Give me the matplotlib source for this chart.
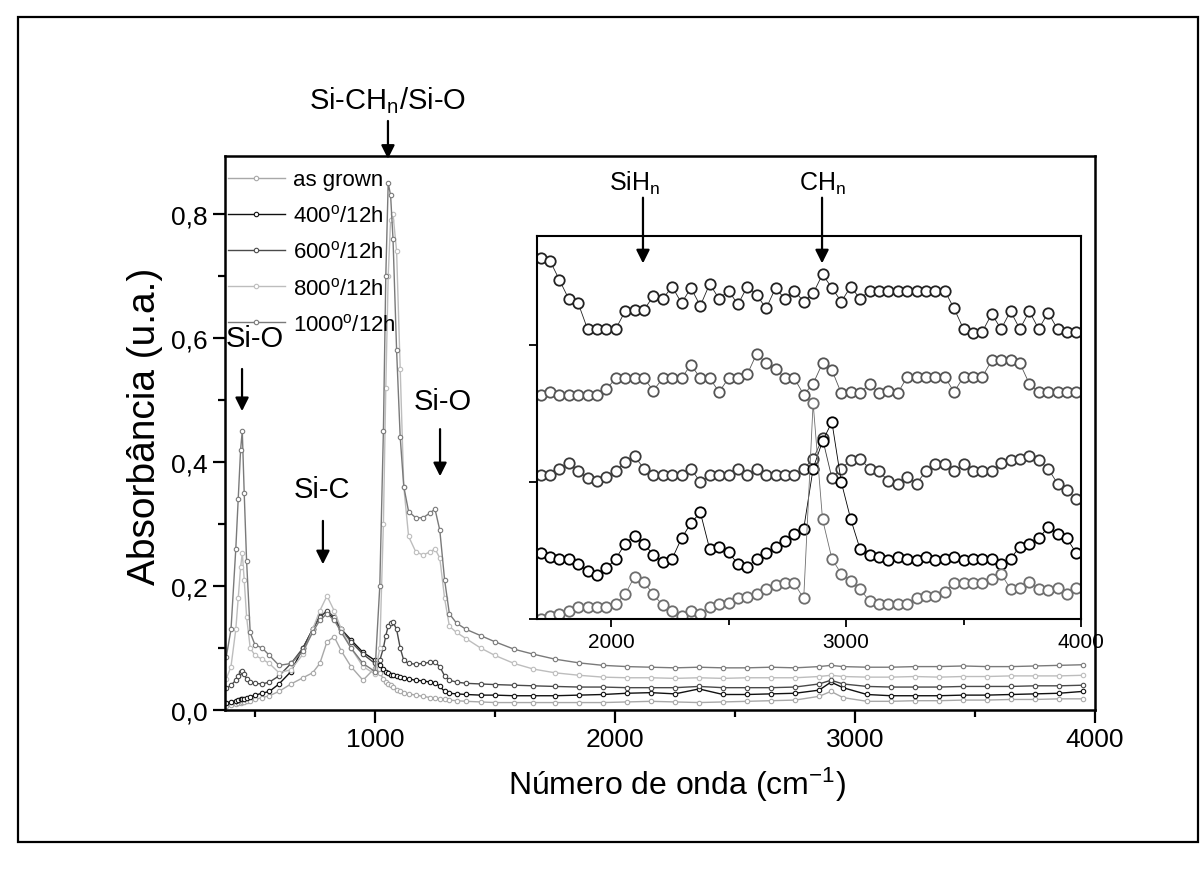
import numpy as np
import matplotlib
matplotlib.use("Agg")
import matplotlib.pyplot as plt
from matplotlib.ticker import MultipleLocator, FuncFormatter
from matplotlib.patches import Rectangle

plt.rcParams['font.family'] = ['Liberation Sans Narrow', 'Liberation Sans', 'DejaVu Sans']
plt.rcParams['mathtext.default'] = 'regular'

# ---------------- main spectra (absorbance, a.u.) ----------------
wavenumber = [380, 400, 420, 430, 440, 447, 455, 465, 480, 500,
              530, 560, 600, 650, 700, 740, 770, 800, 830, 860,
              900, 950, 1000, 1020, 1035, 1045, 1055, 1065, 1075, 1090,
              1105, 1120, 1140, 1170, 1200, 1230, 1250, 1270, 1290, 1310,
              1340, 1380, 1440, 1500, 1580, 1660, 1750, 1850, 1950, 2050,
              2150, 2250, 2350, 2450, 2550, 2650, 2750, 2850, 2900, 2950,
              3050, 3150, 3250, 3350, 3450, 3550, 3650, 3750, 3850, 3950]

abs_asgrown = [0.006, 0.008, 0.010, 0.011, 0.012, 0.013, 0.013, 0.014, 0.015, 0.017,
               0.020, 0.023, 0.030, 0.042, 0.052, 0.060, 0.075, 0.110, 0.118, 0.095,
               0.070, 0.048, 0.068, 0.060, 0.050, 0.045, 0.042, 0.040, 0.037, 0.033,
               0.030, 0.028, 0.026, 0.024, 0.022, 0.020, 0.019, 0.018, 0.017, 0.016,
               0.015, 0.014, 0.013, 0.012, 0.012, 0.012, 0.012, 0.012, 0.012, 0.013,
               0.014, 0.013, 0.012, 0.013, 0.014, 0.015, 0.016, 0.022, 0.030, 0.020,
               0.014, 0.014, 0.015, 0.015, 0.016, 0.016, 0.017, 0.017, 0.018, 0.018]

abs_400 = [0.012, 0.013, 0.015, 0.016, 0.017, 0.017, 0.018, 0.019, 0.021, 0.024,
           0.027, 0.030, 0.042, 0.062, 0.100, 0.130, 0.152, 0.158, 0.147, 0.130,
           0.113, 0.093, 0.080, 0.072, 0.066, 0.062, 0.060, 0.057, 0.056, 0.055,
           0.053, 0.051, 0.050, 0.048, 0.047, 0.045, 0.044, 0.038, 0.030, 0.027,
           0.026, 0.025, 0.024, 0.024, 0.023, 0.023, 0.023, 0.024, 0.025, 0.027,
           0.028, 0.026, 0.034, 0.025, 0.025, 0.026, 0.027, 0.032, 0.045, 0.036,
           0.025, 0.023, 0.023, 0.023, 0.024, 0.024, 0.025, 0.026, 0.027, 0.030]

abs_600 = [0.035, 0.040, 0.048, 0.055, 0.062, 0.063, 0.058, 0.050, 0.045, 0.043,
           0.042, 0.045, 0.055, 0.075, 0.100, 0.130, 0.150, 0.160, 0.150, 0.130,
           0.110, 0.090, 0.075, 0.080, 0.100, 0.120, 0.135, 0.140, 0.142, 0.130,
           0.100, 0.080, 0.075, 0.074, 0.075, 0.077, 0.077, 0.070, 0.055, 0.048,
           0.045, 0.043, 0.042, 0.041, 0.040, 0.039, 0.038, 0.037, 0.037, 0.036,
           0.036, 0.036, 0.038, 0.036, 0.036, 0.036, 0.037, 0.042, 0.048, 0.042,
           0.038, 0.037, 0.037, 0.037, 0.038, 0.038, 0.038, 0.039, 0.039, 0.040]

abs_800 = [0.050, 0.070, 0.130, 0.180, 0.230, 0.253, 0.210, 0.150, 0.100, 0.088,
           0.082, 0.075, 0.060, 0.065, 0.090, 0.130, 0.160, 0.184, 0.160, 0.130,
           0.100, 0.070, 0.058, 0.100, 0.300, 0.520, 0.700, 0.790, 0.800, 0.740,
           0.550, 0.360, 0.280, 0.255, 0.250, 0.255, 0.260, 0.245, 0.180, 0.135,
           0.125, 0.115, 0.100, 0.088, 0.075, 0.066, 0.060, 0.056, 0.053, 0.052,
           0.052, 0.051, 0.052, 0.051, 0.052, 0.052, 0.052, 0.054, 0.056, 0.054,
           0.053, 0.053, 0.054, 0.053, 0.054, 0.054, 0.055, 0.055, 0.055, 0.056]

abs_1000 = [0.085, 0.130, 0.260, 0.340, 0.420, 0.450, 0.350, 0.240, 0.125, 0.105,
            0.100, 0.088, 0.072, 0.075, 0.095, 0.125, 0.145, 0.155, 0.145, 0.125,
            0.100, 0.075, 0.062, 0.200, 0.450, 0.700, 0.850, 0.830, 0.760, 0.580,
            0.440, 0.360, 0.320, 0.310, 0.310, 0.318, 0.324, 0.290, 0.210, 0.155,
            0.140, 0.130, 0.120, 0.110, 0.098, 0.090, 0.082, 0.076, 0.072, 0.070,
            0.069, 0.068, 0.069, 0.068, 0.068, 0.069, 0.068, 0.070, 0.072, 0.070,
            0.069, 0.069, 0.070, 0.070, 0.071, 0.070, 0.070, 0.071, 0.072, 0.073]

labels = ["as grown", "400$^{o}$/12h", "600$^{o}$/12h", "800$^{o}$/12h", "1000$^{o}$/12h"]
colors = ["#a8a8a8", "#111111", "#4a4a4a", "#bdbdbd", "#7a7a7a"]

# ---------------- inset (offset, normalised, arbitrary units) ----------------
inset_wn = np.arange(1700, 4000, 40)

ins_1000 = [2.64, 2.62, 2.48, 2.34, 2.31, 2.12, 2.12, 2.12, 2.12, 2.25,
            2.26, 2.26, 2.36, 2.34, 2.43, 2.31, 2.42, 2.29, 2.45, 2.34,
            2.40, 2.30, 2.43, 2.37, 2.27, 2.42, 2.34, 2.40, 2.32, 2.38,
            2.52, 2.42, 2.32, 2.43, 2.34, 2.40, 2.40, 2.40, 2.40, 2.40,
            2.40, 2.40, 2.40, 2.40, 2.27, 2.12, 2.09, 2.10, 2.23, 2.12,
            2.25, 2.12, 2.25, 2.12, 2.24, 2.12, 2.10, 2.10]

ins_800 = [1.64, 1.66, 1.64, 1.64, 1.64, 1.64, 1.64, 1.68, 1.76, 1.76,
           1.76, 1.76, 1.67, 1.76, 1.76, 1.76, 1.86, 1.76, 1.76, 1.66,
           1.76, 1.76, 1.79, 1.94, 1.87, 1.83, 1.76, 1.76, 1.64, 1.72,
           1.87, 1.82, 1.65, 1.66, 1.65, 1.72, 1.65, 1.67, 1.65, 1.77,
           1.77, 1.77, 1.77, 1.77, 1.66, 1.77, 1.77, 1.77, 1.89, 1.89,
           1.89, 1.87, 1.72, 1.66, 1.66, 1.66, 1.66, 1.66]

ins_600 = [1.05, 1.05, 1.10, 1.14, 1.08, 1.03, 1.01, 1.04, 1.08, 1.15,
           1.19, 1.10, 1.05, 1.05, 1.05, 1.05, 1.10, 1.00, 1.05, 1.05,
           1.05, 1.10, 1.05, 1.10, 1.05, 1.05, 1.05, 1.05, 1.10, 1.17,
           1.32, 1.03, 1.10, 1.16, 1.17, 1.10, 1.08, 1.01, 0.99, 1.04,
           0.99, 1.08, 1.13, 1.13, 1.08, 1.13, 1.08, 1.08, 1.08, 1.14,
           1.16, 1.17, 1.19, 1.16, 1.10, 0.99, 0.94, 0.88]

ins_400 = [0.48, 0.45, 0.44, 0.44, 0.40, 0.35, 0.32, 0.37, 0.44, 0.55,
           0.61, 0.55, 0.47, 0.42, 0.44, 0.59, 0.70, 0.78, 0.51, 0.53,
           0.49, 0.40, 0.38, 0.44, 0.48, 0.53, 0.57, 0.62, 0.66, 1.10,
           1.30, 1.44, 1.00, 0.73, 0.51, 0.47, 0.45, 0.43, 0.45, 0.44,
           0.43, 0.45, 0.43, 0.44, 0.45, 0.43, 0.44, 0.44, 0.44, 0.40,
           0.44, 0.53, 0.55, 0.59, 0.67, 0.62, 0.59, 0.48]

ins_asgrown = [0.00, 0.02, 0.04, 0.06, 0.09, 0.09, 0.09, 0.09, 0.11, 0.18,
               0.31, 0.27, 0.18, 0.10, 0.06, 0.02, 0.06, 0.04, 0.09, 0.11,
               0.12, 0.15, 0.16, 0.18, 0.22, 0.25, 0.26, 0.26, 0.15, 1.58,
               0.73, 0.44, 0.33, 0.28, 0.22, 0.13, 0.11, 0.11, 0.11, 0.11,
               0.15, 0.17, 0.17, 0.20, 0.26, 0.26, 0.26, 0.26, 0.29, 0.33,
               0.22, 0.23, 0.27, 0.22, 0.21, 0.23, 0.18, 0.23]

inset_series = [ins_1000, ins_800, ins_600, ins_400, ins_asgrown]
inset_colors = ["#222222", "#555555", "#3a3a3a", "#000000", "#6e6e6e"]

# ---------------- figure ----------------
W, H = 1200, 879
fig = plt.figure(figsize=(W / 100, H / 100), dpi=100)
fig.patch.set_facecolor("white")

def fx(px):
    return px / W

def fy(py):
    return 1 - py / H

# outer frame of the scanned figure
fig.add_artist(Rectangle((fx(18), fy(843)), fx(1198) - fx(18), fy(18) - fy(843),
                         transform=fig.transFigure, fill=False, lw=1.6, color="black"))

ax = fig.add_axes([fx(225), fy(711), fx(1095) - fx(225), fy(157) - fy(711)])

series = [abs_asgrown, abs_400, abs_600, abs_800, abs_1000]
handles = []
for vals, lab, col in zip(series, labels, colors):
    h, = ax.plot(wavenumber, vals, '-', color=col, lw=1.0, marker='o', ms=3.2,
                 mfc='white', mec=col, mew=0.8, label=lab)
    handles.append(h)

ax.set_xlim(375, 4000)
ax.set_ylim(0, 0.8935)
ax.xaxis.set_major_locator(MultipleLocator(1000))
ax.xaxis.set_minor_locator(MultipleLocator(500))
ax.yaxis.set_major_locator(MultipleLocator(0.2))
ax.yaxis.set_minor_locator(MultipleLocator(0.1))
ax.yaxis.set_major_formatter(FuncFormatter(lambda v, p: f"{v:.1f}".replace('.', ',')))
ax.tick_params(which='both', direction='out', top=False, right=False, labelsize=19, width=1.6)
ax.tick_params(which='major', length=9)
ax.tick_params(which='minor', length=5)
for sp in ax.spines.values():
    sp.set_linewidth(1.8)

leg = ax.legend(handles=handles, loc='upper left', bbox_to_anchor=(0.003, 0.976),
                frameon=False, fontsize=16, handlelength=2.6, handletextpad=0.35,
                labelspacing=0.64, borderpad=0, borderaxespad=0, numpoints=1)

fig.text(fx(145), fy(426), "Absorbância (u.a.)", rotation=90, ha='center', va='center', fontsize=28)
fig.text(fx(677), fy(785), "Número de onda (cm$^{-1}$)", ha='center', va='center', fontsize=23)

arrow = dict(arrowstyle='-|>', lw=1.6, color='black', mutation_scale=20, shrinkA=0, shrinkB=0)
ax.annotate("", xy=(446, 0.482), xytext=(446, 0.55), arrowprops=arrow, annotation_clip=False)
ax.annotate("", xy=(783, 0.235), xytext=(783, 0.305), arrowprops=arrow, annotation_clip=False)
ax.annotate("", xy=(1054, 0.889), xytext=(1054, 0.950), arrowprops=arrow, annotation_clip=False)
ax.annotate("", xy=(1271, 0.377), xytext=(1271, 0.453), arrowprops=arrow, annotation_clip=False)

ax.text(500, 0.60, "Si-O", ha='center', va='center', fontsize=21)
ax.text(779, 0.356, "Si-C", ha='center', va='center', fontsize=21)
ax.text(1283, 0.498, "Si-O", ha='center', va='center', fontsize=21)
ax.text(1054, 0.985, "Si-CH$_{n}$/Si-O", ha='center', va='center', fontsize=21, clip_on=False)

# ---------------- inset ----------------
ins = fig.add_axes([fx(537), fy(620), fx(1081) - fx(537), fy(237) - fy(620)])
ins.set_facecolor("white")
for vals, col in zip(inset_series, inset_colors):
    ins.plot(inset_wn, vals, '-', color=col, lw=0.6, marker='o', ms=7.5,
             mfc='white', mec=col, mew=1.3)
ins.set_xlim(1685, 4000)
ins.set_ylim(0, 2.8)
ins.xaxis.set_major_locator(MultipleLocator(1000))
ins.xaxis.set_minor_locator(MultipleLocator(500))
ins.set_yticks([0, 1, 2])
ins.set_yticklabels([])
ins.tick_params(which='both', direction='out', top=False, right=False, labelsize=15, width=1.3)
ins.tick_params(which='major', length=6)
ins.tick_params(which='minor', length=4)
for sp in ins.spines.values():
    sp.set_linewidth(1.5)

ins.annotate("", xy=(2136, 2.60), xytext=(2136, 3.08), arrowprops=arrow, annotation_clip=False)
ins.annotate("", xy=(2898, 2.60), xytext=(2898, 3.08), arrowprops=arrow, annotation_clip=False)
ins.text(2100, 3.19, "SiH$_{n}$", ha='center', va='center', fontsize=18, clip_on=False)
ins.text(2898, 3.19, "CH$_{n}$", ha='center', va='center', fontsize=18, clip_on=False)

fig.savefig("out.png", dpi=100, facecolor="white")
